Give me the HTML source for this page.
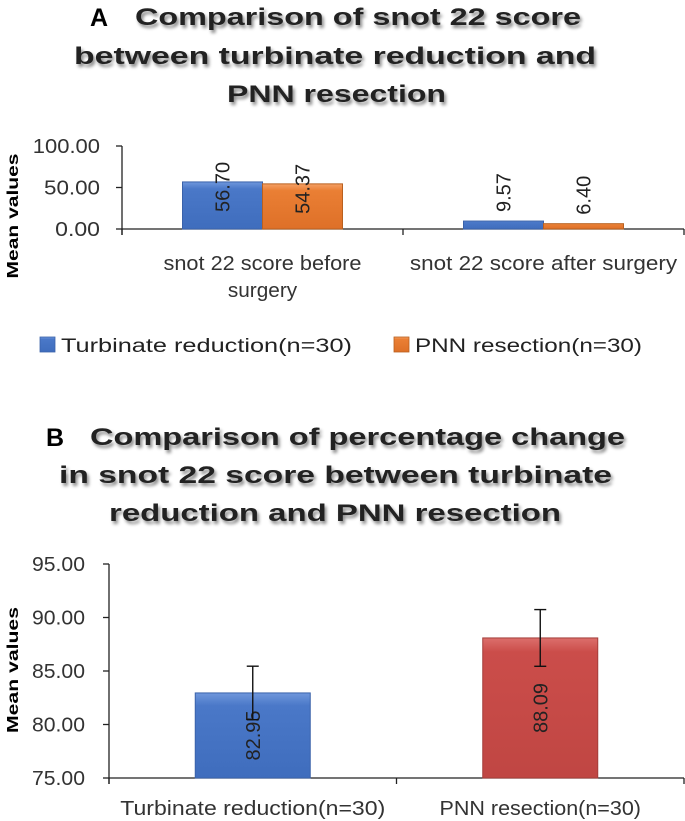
<!DOCTYPE html>
<html><head><meta charset="utf-8"><style>
html,body{margin:0;padding:0;background:#fff;}
svg{display:block;font-family:"Liberation Sans",sans-serif;}
</style></head><body>
<svg id="fig" width="685" height="821" viewBox="0 0 685 821" xmlns="http://www.w3.org/2000/svg">
<defs>
<filter id="sh" x="-5%" y="-20%" width="110%" height="160%"><feDropShadow dx="2" dy="3" stdDeviation="1.6" flood-color="#000" flood-opacity="0.45"/></filter>
<linearGradient id="gBlue" x1="0" y1="0" x2="0" y2="1"><stop offset="0" stop-color="#6f97dc"/><stop offset="0.15" stop-color="#4a78c8"/><stop offset="1" stop-color="#3f6dbd"/></linearGradient>
<linearGradient id="gOrange" x1="0" y1="0" x2="0" y2="1"><stop offset="0" stop-color="#f5a065"/><stop offset="0.15" stop-color="#ea7f34"/><stop offset="1" stop-color="#de7028"/></linearGradient>
<linearGradient id="gRed" x1="0" y1="0" x2="0" y2="1"><stop offset="0" stop-color="#dc6f6c"/><stop offset="0.1" stop-color="#cb4d4a"/><stop offset="1" stop-color="#c04643"/></linearGradient>
</defs>
<g>
<text x="90" y="26" font-size="25" font-weight="bold">A</text>
<g filter="url(#sh)" font-size="24" font-weight="bold" fill="#222">
<text x="135" y="25" textLength="446" lengthAdjust="spacingAndGlyphs">Comparison of snot 22 score</text>
<text x="74" y="64" textLength="522" lengthAdjust="spacingAndGlyphs">between turbinate reduction and</text>
<text x="227" y="102" textLength="219" lengthAdjust="spacingAndGlyphs">PNN resection</text>
</g>
<text transform="translate(18,216) rotate(-90)" text-anchor="middle" font-size="16" font-weight="bold" textLength="125" lengthAdjust="spacingAndGlyphs">Mean values</text>
<g id="axA"></g>
<g id="barsA"></g>
<g font-size="19" fill="#222">
<rect x="40" y="337" width="15" height="15" fill="url(#gBlue)" stroke="#3a62aa" stroke-width="0.8"/>
<text x="61" y="352" textLength="291" lengthAdjust="spacingAndGlyphs">Turbinate reduction(n=30)</text>
<rect x="394" y="337" width="15" height="15" fill="url(#gOrange)" stroke="#b9601f" stroke-width="0.8"/>
<text x="415" y="352" textLength="227" lengthAdjust="spacingAndGlyphs">PNN resection(n=30)</text>
</g>
</g>
<g>
<text x="46" y="446" font-size="25" font-weight="bold">B</text>
<g filter="url(#sh)" font-size="24" font-weight="bold" fill="#222">
<text x="90" y="445" textLength="535" lengthAdjust="spacingAndGlyphs">Comparison of percentage change</text>
<text x="59" y="483" textLength="553" lengthAdjust="spacingAndGlyphs">in snot 22 score between turbinate</text>
<text x="109" y="521" textLength="452" lengthAdjust="spacingAndGlyphs">reduction and PNN resection</text>
</g>
<text transform="translate(18,670) rotate(-90)" text-anchor="middle" font-size="16" font-weight="bold" textLength="126" lengthAdjust="spacingAndGlyphs">Mean values</text>
<g id="axB"></g>
<g id="barsB"></g>
</g>
</svg>
<script>
// Chart A data
const catsA = ["snot 22 score before|surgery", "snot 22 score after surgery"];
const turbinateA = [56.70, 9.57];
const pnnA = [54.37, 6.40];
const ticksA = [0, 50, 100];
const tickLabelsA = ["0.00", "50.00", "100.00"];
// Chart B data
const catsB = ["Turbinate reduction(n=30)", "PNN resection(n=30)"];
const meansB = [82.95, 88.09];
const errB = [2.50, 2.65];
const ticksB = [75, 80, 85, 90, 95];
const tickLabelsB = ["75.00", "80.00", "85.00", "90.00", "95.00"];

const NS = "http://www.w3.org/2000/svg";
function mk(tag, attrs, parent, txt) {
  const e = document.createElementNS(NS, tag);
  for (const k in attrs) e.setAttribute(k, attrs[k]);
  if (txt !== undefined) e.textContent = txt;
  parent.appendChild(e);
  return e;
}
function fitLen(t, str, perChar) {
  t.setAttribute("textLength", (str.length * perChar).toFixed(1));
  t.setAttribute("lengthAdjust", "spacingAndGlyphs");
}
// ---- Chart A ----
const aX0 = 122, aX1 = 684, aY0 = 229, aY100 = 146;
const yA = v => aY0 - (v - 0) * (aY0 - aY100) / 100;
const bandA = (aX1 - aX0) / catsA.length;
const axA = document.getElementById("axA");
let l = mk("line", {x1: aX0, y1: yA(100), x2: aX0, y2: aY0 + 6, stroke: "#222", "stroke-width": 1.3}, axA);


l = mk("line", {x1: aX0, y1: aY0, x2: aX1, y2: aY0, stroke: "#222", "stroke-width": 1.3}, axA);


ticksA.forEach((t, i) => {
  const tk = mk("line", {x1: aX0 - 6, y1: yA(t), x2: aX0, y2: yA(t), stroke: "#222", "stroke-width": 1.3}, axA);
  
  
  const tl = mk("text", {x: 100, y: yA(t) + 7, "text-anchor": "end", "font-size": 20, fill: "#333"}, axA, tickLabelsA[i]);
  fitLen(tl, tickLabelsA[i], 11.2);
  
  
});
for (let i = 0; i <= catsA.length; i++) {
  const x = aX0 + i * bandA;
  const tk = mk("line", {x1: x, y1: aY0, x2: x, y2: aY0 + 6, stroke: "#222", "stroke-width": 1.3}, axA);
  
  
}
catsA.forEach((c, i) => {
  const cx = aX0 + (i + 0.5) * bandA;
  c.split("|").forEach((line, j) => {
    const t = mk("text", {x: cx, y: 270 + j * 27, "text-anchor": "middle", "font-size": 20, fill: "#333"}, axA, line);
    fitLen(t, line, 9.9);
    
    
  });
});
const barsA = document.getElementById("barsA");
const bwA = 80;
function barA(v, x, fill, stroke, name) {
  const top = yA(v);
  const r = mk("rect", {x: x, y: top, width: bwA, height: aY0 - top, fill: fill, stroke: stroke, "stroke-width": 1}, barsA);
  
  
  const start = (aY0 - top) > 40 ? top + 30 : top - 9;
  const t = mk("text", {transform: `translate(${x + bwA / 2 + 7},${start}) rotate(-90)`, "font-size": 20, fill: "#222"}, barsA, v.toFixed(2));
  
  
}
catsA.forEach((c, i) => {
  const cx = aX0 + (i + 0.5) * bandA;
  barA(turbinateA[i], cx - bwA, "url(#gBlue)", "#3a62aa", "bar-turbinate-" + i);
  barA(pnnA[i], cx, "url(#gOrange)", "#b9601f", "bar-pnn-" + i);
});
// ---- Chart B ----
const bX0 = 109, bX1 = 684, bYmin = 778, bYmax = 564;
const yB = v => bYmin - (v - 75) * (bYmin - bYmax) / 20;
const bandB = (bX1 - bX0) / catsB.length;
const axB = document.getElementById("axB");
l = mk("line", {x1: bX0, y1: yB(95), x2: bX0, y2: bYmin + 6, stroke: "#222", "stroke-width": 1.3}, axB);


l = mk("line", {x1: bX0, y1: bYmin, x2: bX1, y2: bYmin, stroke: "#222", "stroke-width": 1.3}, axB);


ticksB.forEach((t, i) => {
  const tk = mk("line", {x1: bX0 - 6, y1: yB(t), x2: bX0, y2: yB(t), stroke: "#222", "stroke-width": 1.3}, axB);
  
  
  const tl = mk("text", {x: 85, y: yB(t) + 7, "text-anchor": "end", "font-size": 20, fill: "#333"}, axB, tickLabelsB[i]);
  fitLen(tl, tickLabelsB[i], 10.6);
  
  
});
for (let i = 0; i <= catsB.length; i++) {
  const x = bX0 + i * bandB;
  const tk = mk("line", {x1: x, y1: bYmin, x2: x, y2: bYmin + 6, stroke: "#222", "stroke-width": 1.3}, axB);
  
  
}
const barsB = document.getElementById("barsB");
const bwB = 115;
const fillsB = ["url(#gBlue)", "url(#gRed)"];
const strokesB = ["#3a62aa", "#a33d3a"];
catsB.forEach((c, i) => {
  const cx = bX0 + (i + 0.5) * bandB;
  const lab = mk("text", {x: cx, y: 815, "text-anchor": "middle", "font-size": 20, fill: "#333"}, axB, c);
  fitLen(lab, c, 10.6);
  
  
  const top = yB(meansB[i]);
  const r = mk("rect", {x: cx - bwB / 2, y: top, width: bwB, height: bYmin - top, fill: fillsB[i], stroke: strokesB[i], "stroke-width": 1}, barsB);
  
  
  const mid = (top + bYmin) / 2;
  const t = mk("text", {transform: `translate(${cx + 7},${mid}) rotate(-90)`, "text-anchor": "middle", "font-size": 20, fill: "#222"}, barsB, meansB[i].toFixed(2));
  
  
  const hi = yB(meansB[i] + errB[i]), lo = yB(meansB[i] - errB[i]);
  const eg = mk("g", {stroke: "#111", "stroke-width": 1.4}, barsB);
  
  
  mk("line", {x1: cx, y1: hi, x2: cx, y2: lo}, eg);
  mk("line", {x1: cx - 6, y1: hi, x2: cx + 6, y2: hi}, eg);
  mk("line", {x1: cx - 6, y1: lo, x2: cx + 6, y2: lo}, eg);
});
</script>
</body></html>
